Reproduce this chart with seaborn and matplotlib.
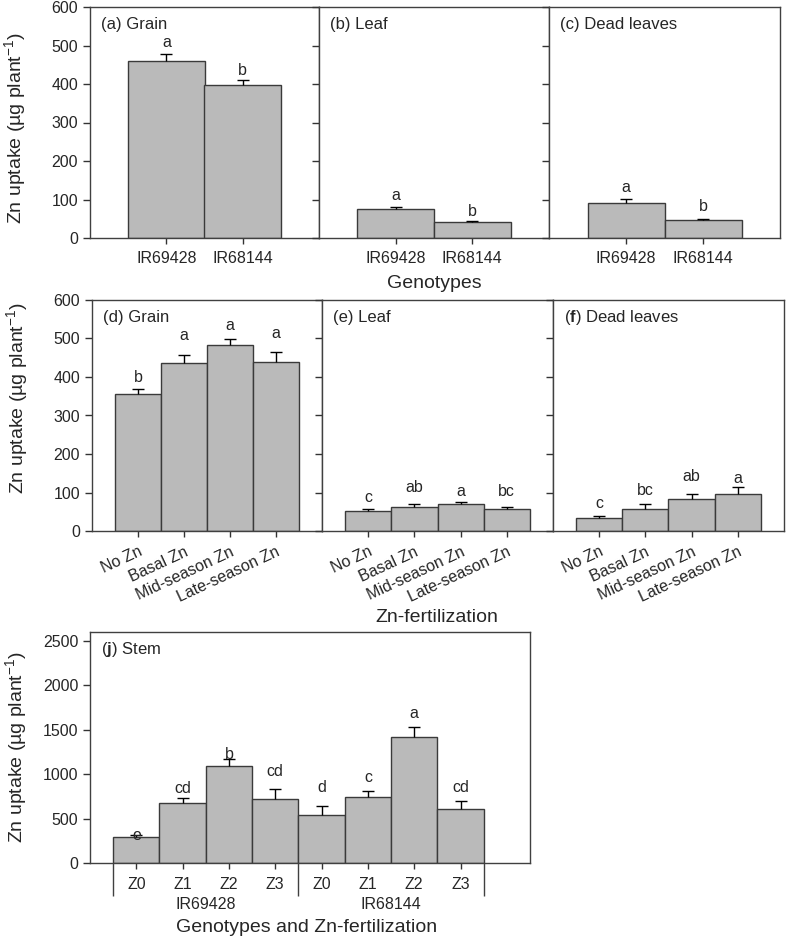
import numpy as np
import seaborn as sns
import matplotlib.pyplot as plt
import matplotlib.transforms as mtransforms

# ---- data ----
genotypes = ['IR69428', 'IR68144']
grain_geno = [460, 398]
grain_geno_se = [18, 12]
leaf_geno = [75, 42]
leaf_geno_se = [5, 2]
dead_geno = [90, 47]
dead_geno_se = [11, 1.5]
letters_a = ['a', 'b']
letters_b = ['a', 'b']
letters_c = ['a', 'b']

treatments = ['No Zn', 'Basal Zn', 'Mid-season Zn', 'Late-season Zn']
grain_trt = [355, 436, 482, 440]
grain_trt_se = [15, 20, 17, 25]
leaf_trt = [52, 62, 69, 56]
leaf_trt_se = [6, 9, 7, 7]
dead_trt = [34, 56, 84, 95]
dead_trt_se = [4, 13, 13, 19]
letters_d = ['b', 'a', 'a', 'a']
letters_e = ['c', 'ab', 'a', 'bc']
letters_f = ['c', 'bc', 'ab', 'a']

stem_levels = ['Z0', 'Z1', 'Z2', 'Z3', 'Z0', 'Z1', 'Z2', 'Z3']
stem_groups = ['IR69428', 'IR68144']
stem = [293, 676, 1089, 717, 540, 747, 1419, 608]
stem_se = [27, 60, 80, 120, 105, 67, 116, 87]
letters_j = ['e', 'cd', 'b', 'cd', 'd', 'c', 'a', 'cd']

# letter offsets above the error bar (pixels), as placed in the original
pad_a, pad_b, pad_c = [11, 10], [12, 10], [12, 13]
pad_d, pad_e, pad_f = [11, 20, 13, 18], [11, 16, 10, 15], [13, 14, 17, 9]
pad_j = [-1, 9, 5, 17, 18, 13, 13, 14]

sns.set_style('ticks')
plt.rcParams['font.family'] = ['Liberation Sans', 'DejaVu Sans']
plt.rcParams['mathtext.fontset'] = 'custom'
plt.rcParams['mathtext.rm'] = 'Liberation Sans'
plt.rcParams['mathtext.bf'] = 'Liberation Sans:bold'

BAR = '#bababa'
EDGE = '#3a3a3a'
FS = 11.5
LFS = 14
W, H = 787, 941

fig = plt.figure(figsize=(W / 100, H / 100), dpi=100)


def px_axes(x0, x1, ytop, ybot):
    return fig.add_axes([x0 / W, 1 - ybot / H, (x1 - x0) / W, (ybot - ytop) / H])


def panel(ax, cats, vals, se, letters, pads, title, ylim, yticks, ylabels=True, rot=0, tx=0.047):
    x = np.arange(len(vals))
    sns.barplot(x=x, y=vals, color=BAR, width=1, edgecolor=EDGE, linewidth=1,
                saturation=1, ax=ax, zorder=2)
    top = np.array(vals) + np.array(se)
    ax.vlines(x, vals, top, color='black', lw=1, zorder=3)
    ax.plot(x, top, ls='none', marker='_', ms=9, mew=1, color='black', zorder=3)
    for xi, t, lab, p in zip(x, top, letters, pads):
        ax.annotate(lab, xy=(xi, t), xytext=(0, p * 0.72), textcoords='offset points',
                    ha='center', va='center', fontsize=FS)
    ax.set_ylim(*ylim)
    ax.set_yticks(yticks)
    ax.set_xticks(x)
    if rot:
        ax.set_xticklabels(cats, rotation=rot, ha='right', rotation_mode='anchor', fontsize=FS)
    else:
        ax.set_xticklabels(cats, fontsize=FS)
    if ylabels:
        ax.tick_params(axis='y', labelsize=FS)
    else:
        ax.set_yticklabels([])
    ax.tick_params(axis='both', direction='out', color='#333333', width=1)
    ax.tick_params(axis='y', length=5)
    ax.tick_params(axis='x', length=4.5, pad=5)
    for s in ax.spines.values():
        s.set_visible(True)
        s.set_color('#404040')
        s.set_linewidth(1)
    ax.set_xlabel('')
    ax.set_ylabel('')
    ax.text(tx, 0.926, title, transform=ax.transAxes, ha='left', va='center', fontsize=12)


ylab = r'Zn uptake (µg plant$^{-1}$)'

# top row: genotypes
ax_a = px_axes(90, 319, 7, 238)
ax_b = px_axes(319, 549, 7, 238)
ax_c = px_axes(549, 780, 7, 238)
yt = np.arange(0, 601, 100)
panel(ax_a, genotypes, grain_geno, grain_geno_se, letters_a, pad_a, '(a) Grain', (0, 600), yt)
panel(ax_b, genotypes, leaf_geno, leaf_geno_se, letters_b, pad_b, '(b) Leaf', (0, 600), yt, False)
panel(ax_c, genotypes, dead_geno, dead_geno_se, letters_c, pad_c, '(c) Dead leaves', (0, 600), yt, False)
for ax in (ax_a, ax_b, ax_c):
    ax.set_xlim(-1, 2)
fig.text(16 / W, 1 - 128 / H, ylab, rotation=90, ha='center', va='center', fontsize=LFS)
fig.text(434 / W, 1 - 283 / H, 'Genotypes', ha='center', va='center', fontsize=LFS)

# middle row: Zn fertilization
ax_d = px_axes(92, 322, 300, 531)
ax_e = px_axes(322, 553, 300, 531)
ax_f = px_axes(553, 784, 300, 531)
panel(ax_d, treatments, grain_trt, grain_trt_se, letters_d, pad_d, '(d) Grain', (0, 600), yt, rot=25)
panel(ax_e, treatments, leaf_trt, leaf_trt_se, letters_e, pad_e, '(e) Leaf', (0, 600), yt, False, rot=25)
panel(ax_f, treatments, dead_trt, dead_trt_se, letters_f, pad_f, r'($\mathbf{f}$) Dead leaves',
      (0, 600), yt, False, rot=25)
for ax in (ax_d, ax_e, ax_f):
    ax.set_xlim(-1, 4)
fig.text(18 / W, 1 - 398 / H, ylab, rotation=90, ha='center', va='center', fontsize=LFS)
fig.text(437 / W, 1 - 617 / H, 'Zn-fertilization', ha='center', va='center', fontsize=LFS)

# bottom: stem, genotype x fertilization
ax_j = px_axes(90, 530, 632, 863)
panel(ax_j, stem_levels, stem, stem_se, letters_j, pad_j, r'($\mathbf{j}$) Stem',
      (0, 2600), np.arange(0, 2501, 500), tx=0.025)
ax_j.set_xlim(-1, 8.5)
ax_j.tick_params(axis='x', length=4, pad=6)
trans = mtransforms.blended_transform_factory(ax_j.transData, ax_j.transAxes)
ax_j.vlines([-0.5, 3.5, 7.5], 0, -0.145, transform=trans, color='#404040', lw=1, clip_on=False)
for gx, g in zip([1.5, 5.5], stem_groups):
    ax_j.text(gx, -0.178, g, transform=trans, ha='center', va='center', fontsize=FS)
fig.text(17 / W, 1 - 747 / H, ylab, rotation=90, ha='center', va='center', fontsize=LFS)
fig.text(307 / W, 1 - 928 / H, 'Genotypes and Zn-fertilization', ha='center', va='center', fontsize=LFS)

fig.savefig('out.png', dpi=100)
